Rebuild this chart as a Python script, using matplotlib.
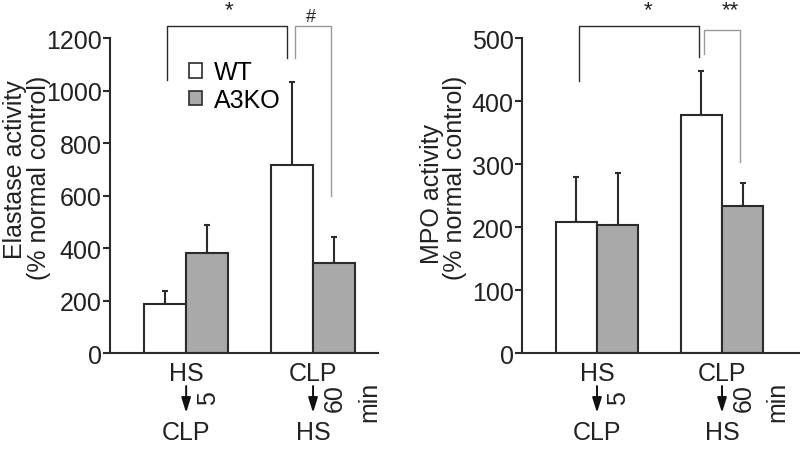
import matplotlib
matplotlib.use("Agg")
import matplotlib.pyplot as plt
import numpy as np
from matplotlib.patches import Patch
from matplotlib.transforms import blended_transform_factory

plt.rcParams["font.family"] = ["Liberation Sans", "DejaVu Sans"]

# data
groups = ["HS", "CLP"]
second = ["CLP", "HS"]
delays = ["5", "60"]
series = ["WT", "A3KO"]

elastase_wt = [186, 718]
elastase_ko = [383, 342]
elastase_wt_err = [52, 317]
elastase_ko_err = [107, 101]

mpo_wt = [209, 378]
mpo_ko = [204, 234]
mpo_wt_err = [70, 71]
mpo_ko_err = [82, 36]

DARK = "#2b2b2b"
GRAY = "#a9a9a9"
LIGHT = "#9a9a9a"
TXT = "#222222"
FS = 18


def draw_panel(ax, wt, ko, wt_err, ko_err, ymax, ystep, xmax):
    x = np.arange(len(groups))
    w = 0.33
    ax.bar(x - w / 2, wt, w, color="white", edgecolor=DARK, linewidth=1.5, zorder=2)
    ax.bar(x + w / 2, ko, w, color=GRAY, edgecolor=DARK, linewidth=1.5, zorder=2)
    ax.errorbar(x - w / 2, wt, yerr=[np.zeros(len(wt)), wt_err], fmt="none",
                ecolor=DARK, elinewidth=1.5, capsize=2.5, capthick=1.5, zorder=1)
    ax.errorbar(x + w / 2, ko, yerr=[np.zeros(len(ko)), ko_err], fmt="none",
                ecolor=DARK, elinewidth=1.5, capsize=2.5, capthick=1.5, zorder=1)

    ax.set_xlim(-0.6, xmax)
    ax.set_ylim(0, ymax)
    ax.set_yticks(np.arange(0, ymax + 1, ystep))
    ax.set_xticks([])
    for s in ["top", "right"]:
        ax.spines[s].set_visible(False)
    for s in ["left", "bottom"]:
        ax.spines[s].set_color(DARK)
        ax.spines[s].set_linewidth(1.5)
    ax.tick_params(axis="y", direction="out", length=5, width=1.5, color=DARK,
                   labelsize=FS, labelcolor=TXT, pad=1)

    # protocol labels under the axis
    tr = blended_transform_factory(ax.transData, ax.transAxes)
    for i in range(len(groups)):
        ax.text(x[i], -0.064, groups[i], transform=tr, ha="center", va="center",
                fontsize=FS, color=TXT, clip_on=False)
        ax.annotate("", xy=(x[i], -0.19), xytext=(x[i], -0.105),
                    xycoords=tr, textcoords=tr,
                    arrowprops=dict(arrowstyle="-|>,head_width=0.28,head_length=0.9",
                                    color="#111111", lw=1.4, shrinkA=0, shrinkB=0))
        ax.text(x[i], -0.252, second[i], transform=tr, ha="center", va="center",
                fontsize=FS, color=TXT, clip_on=False)
        ax.text(x[i] + 0.17, -0.14, delays[i], transform=tr, ha="center", va="center",
                rotation=90, fontsize=FS, color=TXT, clip_on=False)
    ax.text(x[-1] + 0.44, -0.153, "min", transform=tr, ha="center", va="center",
            rotation=90, fontsize=FS, color=TXT, clip_on=False)
    return tr


def bracket(ax, tr, x0, x1, ytop, y0, y1, color):
    ax.plot([x0, x0, x1, x1], [y0, ytop, ytop, y1], transform=tr, color=color,
            lw=1.0, clip_on=False)


fig = plt.figure(figsize=(8, 4.52), dpi=100)

ax1 = fig.add_axes([0.1375, 0.2168, 0.335, 0.696])
tr1 = draw_panel(ax1, elastase_wt, elastase_ko, elastase_wt_err, elastase_ko_err,
                 1200, 200, 1.512)
bracket(ax1, tr1, -0.15, 0.795, 1.041, 0.868, 0.938, DARK)
bracket(ax1, tr1, 0.858, 1.142, 1.041, 0.938, 0.499, LIGHT)
ax1.text(0.34, 1.09, "*", transform=tr1, ha="center", va="center", fontsize=16, color=TXT)
ax1.text(0.984, 1.07, "#", transform=tr1, ha="center", va="center", fontsize=13, color=TXT)
ax1.text(-0.354, 0.585, "Elastase activity", transform=ax1.transAxes, rotation=90,
         ha="center", va="center", fontsize=FS, color=TXT)
ax1.text(-0.265, 0.56, "(% normal control)", transform=ax1.transAxes, rotation=90,
         ha="center", va="center", fontsize=FS, color=TXT)
handles = [Patch(facecolor="white", edgecolor=DARK, linewidth=1.2),
           Patch(facecolor=GRAY, edgecolor=DARK, linewidth=1.2)]
ax1.legend(handles, series, loc="upper left", bbox_to_anchor=(0.295, 0.93),
           frameon=False, fontsize=FS, handlelength=0.5, handleheight=0.5,
           handletextpad=0.5, labelspacing=0.15, borderpad=0, borderaxespad=0)

ax2 = fig.add_axes([0.6525, 0.2168, 0.3475, 0.696])
tr2 = draw_panel(ax2, mpo_wt, mpo_ko, mpo_wt_err, mpo_ko_err, 500, 100, 1.624)
bracket(ax2, tr2, -0.144, 0.816, 1.041, 0.866, 0.941, DARK)
bracket(ax2, tr2, 0.856, 1.144, 1.028, 0.951, 0.607, LIGHT)
ax2.text(0.408, 1.09, "*", transform=tr2, ha="center", va="center", fontsize=16, color=TXT)
ax2.text(1.064, 1.09, "**", transform=tr2, ha="center", va="center", fontsize=16, color=TXT)
ax2.text(-0.324, 0.509, "MPO activity", transform=ax2.transAxes, rotation=90,
         ha="center", va="center", fontsize=FS, color=TXT)
ax2.text(-0.241, 0.561, "(% normal control)", transform=ax2.transAxes, rotation=90,
         ha="center", va="center", fontsize=FS, color=TXT)

fig.savefig("out.png", dpi=100)
